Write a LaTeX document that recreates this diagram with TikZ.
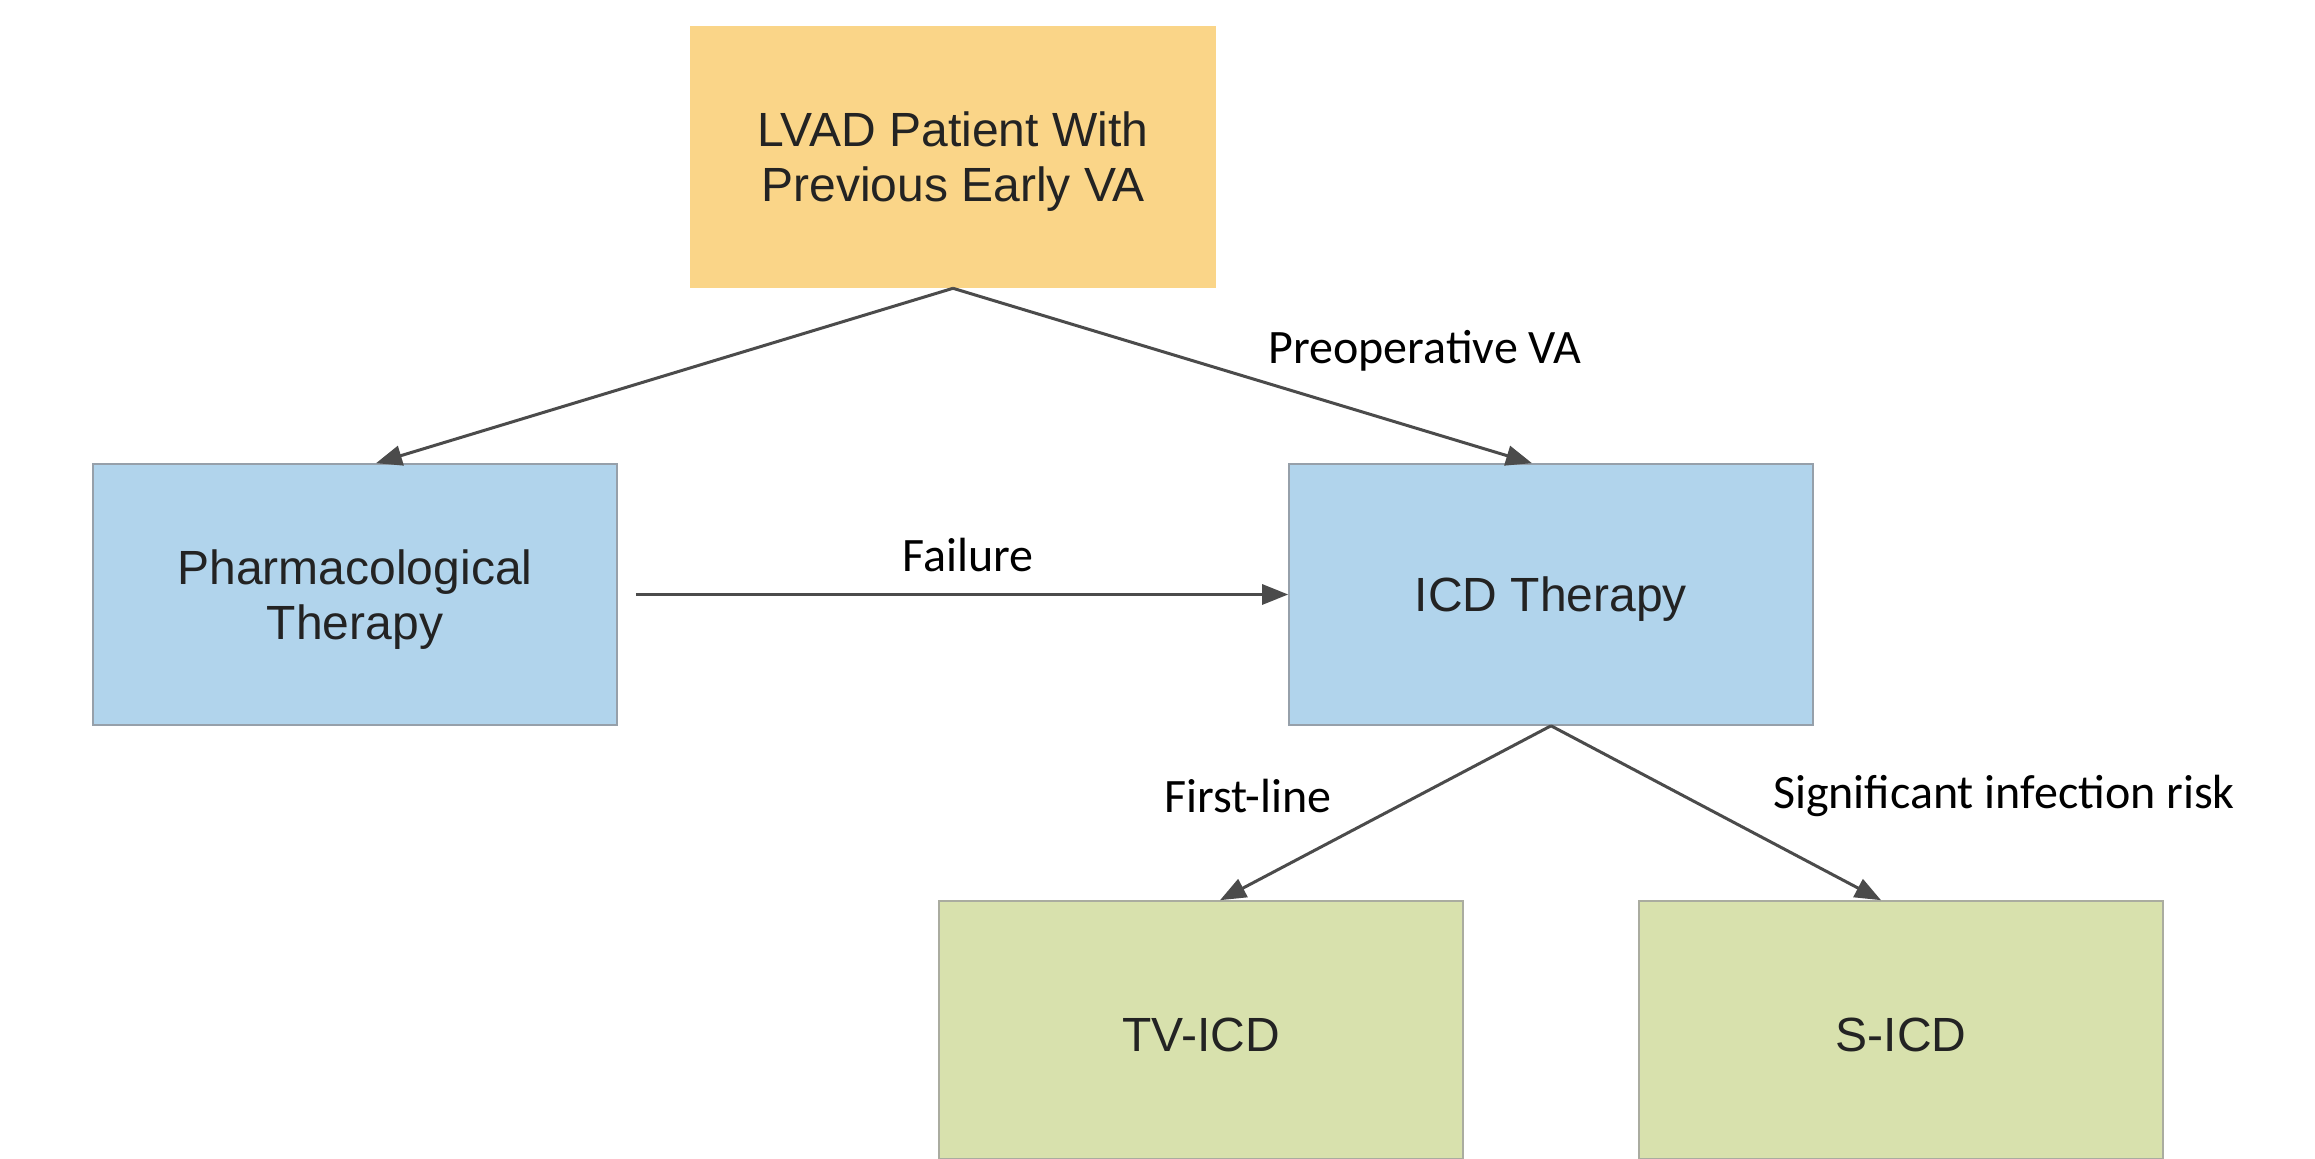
\documentclass[tikz,border=0pt]{standalone}
\usepackage{fontspec}
\setmainfont{Liberation Sans}
\newfontfamily\lblfont{Carlito}
\usetikzlibrary{arrows.meta}
\definecolor{boxorange}{RGB}{250,213,136}
\definecolor{boxblue}{RGB}{177,212,236}
\definecolor{boxgreen}{RGB}{216,225,173}
\definecolor{bordergray}{RGB}{150,160,170}
\definecolor{greenborder}{RGB}{170,172,160}
\definecolor{linegray}{RGB}{75,75,75}
\definecolor{txtgray}{RGB}{35,35,35}
\tikzset{
  box/.style={rectangle, minimum width=262pt, minimum height=130.5pt, inner sep=0pt,
    line width=0.8pt},
  boxtext/.style={align=center, font=\fontsize{24}{27.5}\selectfont, text=txtgray, inner sep=0pt, yshift=-2.5pt},
  orangebox/.style={box, fill=boxorange, draw=boxorange},
  bluebox/.style={box, fill=boxblue, draw=bordergray},
  greenbox/.style={box, fill=boxgreen, draw=greenborder, minimum height=129pt},
  conn/.style={draw=linegray, line width=1.5pt, -{Triangle[length=13pt,width=10pt]}},
  lbl/.style={font=\lblfont\fontsize{24}{28}\selectfont, text=black, inner sep=0pt}
}
\begin{document}
\begin{tikzpicture}[x=0.5pt,y=-0.5pt]
\useasboundingbox (0,0) rectangle (2315,1159);
\fill[white] (0,0) rectangle (2315,1159);
\begin{scope}
\clip (0,0) rectangle (2315,1159);
\node[orangebox] (lvad) at (953,157) {};
\node[bluebox] (pharma) at (355,594.5) {};
\node[bluebox] (icd) at (1551,594.5) {};
\node[greenbox] (tv) at (1201,1030) {};
\node[greenbox] (sicd) at (1901,1030) {};
\end{scope}
\node[boxtext] (tlvad) at (lvad.center) {LVAD Patient With\\Previous Early VA};
\node[boxtext] (tpharma) at (pharma.center) {Pharmacological\\Therapy};
\node[boxtext] (ticd) at (icd.center) {ICD Therapy};
\node[boxtext] (ttv) at (tv.center) {TV-ICD};
\node[boxtext] (tsicd) at (sicd.center) {S-ICD};
\draw[conn] (lvad.south) -- ([xshift=10.5pt]pharma.north);
\draw[conn] (lvad.south) -- ([xshift=-9.5pt]icd.north);
\draw[conn] ([xshift=9pt]pharma.east) -- (icd.west);
\draw[conn] (icd.south) -- ([xshift=9.5pt]tv.north);
\draw[conn] (icd.south) -- ([xshift=-10pt]sicd.north);
\node[lbl] (lpre) at (1425,351) {Preoperative VA};
\node[lbl] (lfail) at (968,555) {Failure};
\node[lbl] (lfirst) at (1248,796) {First-line};
\node[lbl] (lsig) at (2004,796) {Significant infection risk};
\end{tikzpicture}
\end{document}
